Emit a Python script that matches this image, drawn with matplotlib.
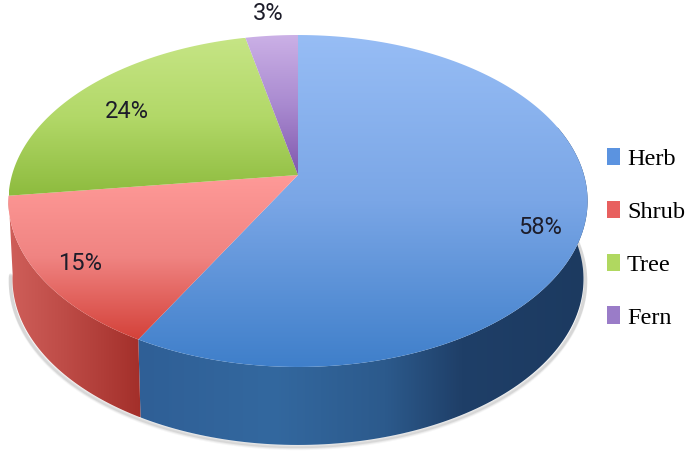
import numpy as np
import matplotlib
matplotlib.use('Agg')
import matplotlib.pyplot as plt
from matplotlib.colors import LinearSegmentedColormap
from matplotlib.patches import Patch, Polygon

categories = ['Herb', 'Shrub', 'Tree', 'Fern']
shares = [58, 15, 23.6, 3.4]
pct_labels = ['58%', '15%', '24%', '3%']

# colours, top of slice -> bottom of slice
top_colors = {'Herb': ['#97bdf5', '#7aa6e6', '#3f7fca'],
              'Shrub': ['#ff9a98', '#f08482', '#d4423a'],
              'Tree': ['#c6e585', '#b2d868', '#8dbb3e'],
              'Fern': ['#cbb0e6', '#a98ad0', '#8058ad']}
side_colors = {'Herb': [(0.0, '#2f5f96'), (0.3, '#33689f'), (0.55, '#2c5a8c'), (0.72, '#1f3f68'), (1.0, '#1c3a60')],
               'Shrub': [(0.0, '#cf5f5a'), (0.4, '#bf4d48'), (1.0, '#a32f2a')]}
legend_colors = {'Herb': '#5b93e0', 'Shrub': '#e8605f', 'Tree': '#b0d860', 'Fern': '#9a7cc8'}


def rim(theta, radius=286.0, shift=0.0):
    # circle seen in perspective, theta clockwise from the back of the pie
    u, v = np.sin(theta), np.cos(theta)
    w = 1 + 0.1566 * v
    return 298 + radius * u / w, (175 - 134.5 * v) / w + shift


def gradient(ax, poly, stops, vertical=True):
    xs, ys = poly[:, 0], poly[:, 1]
    cmap = LinearSegmentedColormap.from_list('g', stops)
    ramp = np.linspace(0, 1, 256)
    ramp = ramp[:, None] if vertical else ramp[None, :]
    im = ax.imshow(ramp, cmap=cmap, vmin=0, vmax=1, aspect='auto', origin='upper',
                   extent=(xs.min(), xs.max(), ys.max(), ys.min()), interpolation='bilinear')
    clip = Polygon(poly, closed=True, transform=ax.transData, facecolor='none', edgecolor='none')
    ax.add_patch(clip)
    im.set_clip_path(clip)


fig = plt.figure(figsize=(6.85, 4.67), dpi=100)
ax = fig.add_axes([0, 0, 1, 1])

edges = np.radians(np.concatenate([[0], np.cumsum(shares)]) * 3.6)

# soft shadow under the wall
t = np.linspace(np.radians(80), edges[2], 200)
for off, a in [(3.5, 0.05), (2.5, 0.08), (1.5, 0.12)]:
    xb, yb = rim(t, 284, 78 + off)
    ax.plot(xb, yb, color='#555555', alpha=a, lw=2.5, solid_capstyle='round', zorder=-1)

# outer wall, only the two front slices show it
front_a = np.radians(72)
for name, a, b in zip(categories[:2], edges[:2], edges[1:3]):
    t = np.linspace(max(a, front_a), b, 120)
    xt, yt = rim(t)
    xb, yb = rim(t, 282, 78)
    poly = np.column_stack([np.r_[xt, xb[::-1]], np.r_[yt, yb[::-1]]])
    gradient(ax, poly, side_colors[name], vertical=False)

# top face
for name, a, b in zip(categories, edges[:-1], edges[1:]):
    t = np.linspace(a, b, 200)
    xr, yr = rim(t)
    poly = np.column_stack([np.r_[298, xr], np.r_[175, yr]])
    gradient(ax, poly, top_colors[name])

# percentage labels
label_xy = [(540, 227), (80, 264), (127, 111), (268, 14)]
for txt, (x, y) in zip(pct_labels, label_xy):
    ax.text(x, y, txt, ha='center', va='center', fontsize=17, color='#1d1d2a', family='Roboto')

handles = [Patch(facecolor=legend_colors[c], edgecolor='none') for c in categories]
ax.legend(handles, categories, loc='upper left', bbox_to_anchor=(607 / 685, 1 - 148 / 467), frameon=False,
          prop={'family': 'Liberation Serif', 'size': 17.5}, labelspacing=1.26, handlelength=0.52, handleheight=0.72,
          handletextpad=0.3, borderaxespad=0, borderpad=0)

ax.set_xlim(0, 685)
ax.set_ylim(467, 0)
ax.axis('off')
fig.savefig('out.png', dpi=100)
